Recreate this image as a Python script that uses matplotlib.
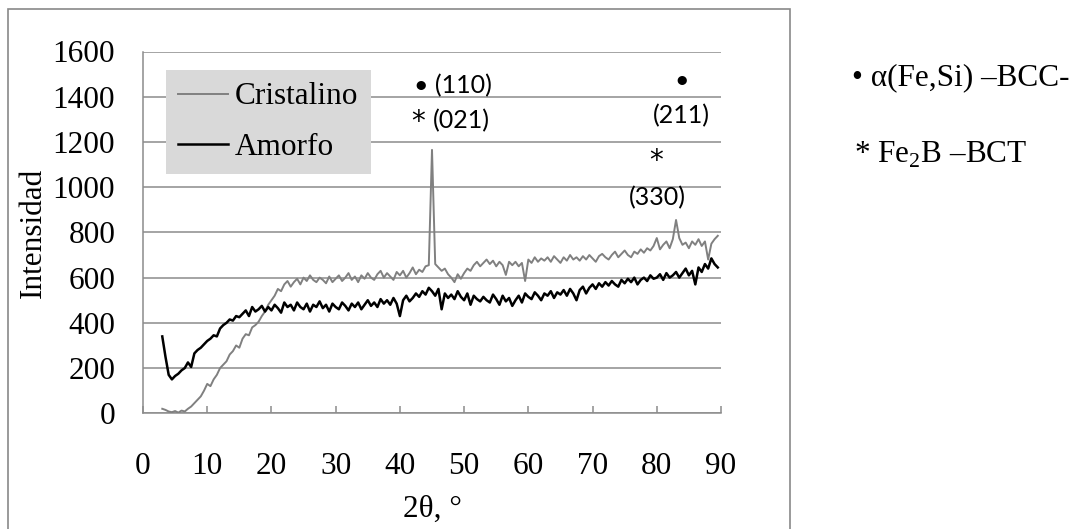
import numpy as np
import matplotlib.pyplot as plt
from matplotlib.patches import Rectangle

plt.rcParams['font.family'] = ['Liberation Serif', 'DejaVu Serif']
plt.rcParams['mathtext.fontset'] = 'custom'
plt.rcParams['mathtext.rm'] = 'Liberation Serif'

# 2theta grid, 3.0 .. 89.5 step 0.5
two_theta = np.arange(3.0, 90.0, 0.5)

cristalino = [
    20, 15, 8, 5, 10, 3, 12, 8, 20, 30,
    45, 60, 75, 100, 130, 120, 150, 170, 200, 215,
    230, 260, 275, 300, 290, 330, 350, 345, 380, 390,
    405, 430, 450, 480, 500, 520, 550, 540, 570, 585,
    560, 580, 595, 570, 600, 585, 610, 590, 580, 600,
    590, 575, 605, 580, 595, 610, 585, 600, 620, 590,
    605, 580, 610, 595, 620, 600, 590, 615, 630, 600,
    620, 605, 590, 625, 610, 630, 600, 620, 645, 615,
    635, 625, 650, 655, 1165, 660, 645, 630, 640, 615,
    600, 580, 615, 595, 620, 640, 630, 655, 670, 650,
    665, 680, 660, 675, 650, 670, 655, 612, 670, 655,
    670, 650, 665, 585, 680, 665, 690, 670, 685, 675,
    690, 670, 695, 680, 665, 690, 675, 700, 680, 690,
    675, 695, 680, 700, 685, 670, 695, 705, 690, 680,
    700, 715, 690, 705, 720, 700, 690, 715, 705, 725,
    710, 730, 720, 740, 775, 725, 745, 760, 730, 770,
    855, 775, 745, 755, 730, 760, 745, 770, 740, 760,
    680, 750, 770, 785,
]

amorfo = [
    340, 250, 170, 150, 165, 175, 190, 200, 225, 205,
    265, 280, 290, 305, 320, 330, 345, 340, 375, 390,
    400, 415, 410, 430, 425, 440, 455, 430, 470, 450,
    460, 475, 450, 470, 455, 480, 465, 445, 490, 470,
    480, 455, 490, 470, 460, 485, 450, 480, 470, 495,
    465, 480, 450, 485, 470, 460, 490, 475, 455, 485,
    470, 490, 460, 480, 500, 475, 490, 470, 505, 485,
    500, 480, 510, 485, 430, 500, 520, 495, 510, 530,
    515, 540, 525, 555, 540, 520, 550, 460, 530, 510,
    525, 505, 540, 515, 500, 530, 480, 520, 505, 495,
    515, 500, 490, 525, 505, 480, 520, 495, 510, 475,
    500, 520, 490, 530, 515, 505, 535, 520, 500, 530,
    520, 540, 510, 535, 525, 545, 520, 550, 530, 500,
    545, 560, 530, 555, 570, 550, 575, 560, 580, 565,
    585, 570, 560, 590, 575, 595, 580, 600, 570, 590,
    600, 585, 610, 595, 600, 615, 590, 620, 600, 610,
    625, 600, 620, 640, 610, 630, 570, 645, 625, 660,
    640, 685, 660, 645,
]

xticks = [0, 10, 20, 30, 40, 50, 60, 70, 80, 90]
yticks = [0, 200, 400, 600, 800, 1000, 1200, 1400, 1600]

W, H = 1075, 529
fig = plt.figure(figsize=(W / 100, H / 100), dpi=100)
ax = fig.add_axes([143 / W, 1 - 413.3 / H, 578 / W, 361.8 / H])

grid_c = '#8c8c8c'
fs = 22.5

ax.plot(two_theta, cristalino, color='#808080', lw=1.4, label='Cristalino', zorder=3)
ax.plot(two_theta, amorfo, color='black', lw=1.8, label='Amorfo', zorder=4)

ax.set_xlim(0, 90)
ax.set_ylim(0, 1600)
ax.set_xticks(xticks)
ax.set_yticks(yticks)
ax.yaxis.grid(True, color=grid_c, lw=1.1)
ax.set_axisbelow(True)
for s in ['top', 'right']:
    ax.spines[s].set_visible(False)
for s in ['left', 'bottom']:
    ax.spines[s].set_color(grid_c)
    ax.spines[s].set_linewidth(1.1)
ax.tick_params(axis='x', direction='in', length=5, width=1.1, color=grid_c,
               labelsize=fs, pad=28)
ax.tick_params(axis='y', length=0, labelsize=fs, pad=20)

ax.set_xlabel('2θ, °', fontsize=fs)
ax.xaxis.set_label_coords(0.5, -0.225)
ax.set_ylabel('Intensidad', fontsize=fs)
ax.yaxis.set_label_coords(-0.165, 0.5)

leg = ax.legend(loc='upper left', bbox_to_anchor=(166 / W, 1 - 70 / H),
                bbox_transform=fig.transFigure, borderaxespad=0,
                fontsize=fs, frameon=True, fancybox=False, framealpha=1,
                facecolor='#d9d9d9', edgecolor='none', handlelength=1.6,
                handletextpad=0.2, borderpad=0.4, labelspacing=0.68)
leg.set_zorder(10)

# peak labels
ann = dict(family=['Lato', 'DejaVu Sans'], fontsize=18, color='black')
star = dict(family='DejaVu Sans', fontsize=20, color='black')
ax.text(42.2, 1447, '• (110)', ha='left', va='center', **ann)
ax.text(42.8, 1290, '*', ha='center', va='center', **star)
ax.text(45.1, 1296, '(021)', ha='left', va='center', **ann)
ax.text(83.8, 1470, '•', ha='center', va='center', **ann)
ax.text(83.9, 1318, '(211)', ha='center', va='center', **ann)
ax.text(79.9, 1115, '*', ha='center', va='center', **star)
ax.text(80.1, 952, '(330)', ha='center', va='center', **ann)

# phase key outside the chart box
fig.text(852 / W, 1 - 78 / H, '• α(Fe,Si) –BCC-', fontsize=fs, va='center', ha='left')
fig.text(854 / W, 1 - 155 / H, r'* Fe$_{\mathrm{2}}$B –BCT', fontsize=fs, va='center', ha='left')

# chart border
fig.add_artist(Rectangle((8 / W, -0.02), (790 - 8) / W, 1.02 - 9 / H,
                         transform=fig.transFigure, fill=False,
                         edgecolor='#898989', lw=1.2))

fig.savefig('out.png', dpi=100)
